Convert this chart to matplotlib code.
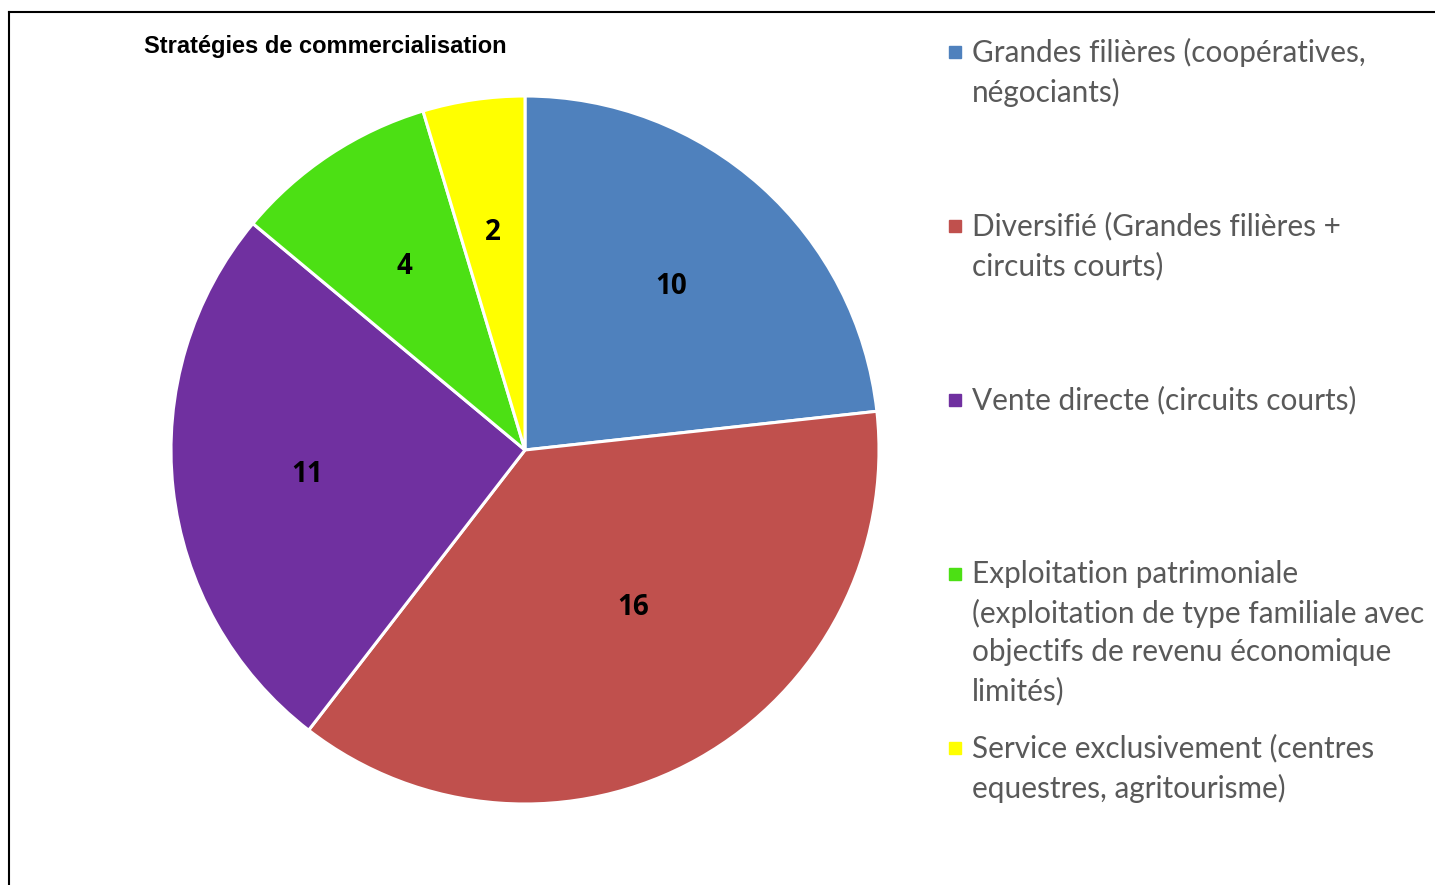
import matplotlib.pyplot as plt
import numpy as np

# data
categories = [
    "Grandes filières (coopératives,\nnégociants)",
    "Diversifié (Grandes filières +\ncircuits courts)",
    "Vente directe (circuits courts)",
    "Exploitation patrimoniale\n(exploitation de type familiale avec\nobjectifs de revenu économique\nlimités)",
    "Service exclusivement (centres\nequestres, agritourisme)",
]
counts = [10, 16, 11, 4, 2]
colors = ["#4F81BD", "#C0504D", "#7030A0", "#4CE014", "#FFFF00"]
title = "Stratégies de commercialisation"

W, H = 1435, 885
fig = plt.figure(figsize=(W / 100, H / 100), dpi=100)

# frame (only top & left visible in the original crop)
fig.add_artist(plt.Line2D([9 / W, 9 / W], [0, 1 - 12 / H], color="black", lw=1.5))
fig.add_artist(plt.Line2D([9 / W, 1], [1 - 12 / H, 1 - 12 / H], color="black", lw=1.5))

# pie axes: centre (525, 450) px, radius 354 px
cx, cy, r = 525, 450, 354
ax = fig.add_axes([(cx - r) / W, (H - cy - r) / H, 2 * r / W, 2 * r / H])
wedges, texts = ax.pie(counts, colors=colors, startangle=90, counterclock=False,
                       labels=[str(c) for c in counts], labeldistance=0.62,
                       wedgeprops=dict(edgecolor="white", linewidth=2.2),
                       textprops=dict(fontsize=20, fontweight="bold", family="Open Sans",
                                      color="black", ha="center", va="center"))
ax.set_xlim(-1, 1)
ax.set_ylim(-1, 1)
ax.set_aspect("equal")
ax.axis("off")

# the biggest slice label sits a bit closer to the centre
w = wedges[1]
ang = np.deg2rad((w.theta1 + w.theta2) / 2 + 5)
texts[1].set_position((0.54 * np.cos(ang), 0.54 * np.sin(ang)))

fig.text(144 / W, 1 - 47 / H, title, family="Liberation Sans", fontweight="bold",
         fontsize=17, ha="left", va="center")

# legend, entries every 174 px
for i, (lab, col) in enumerate(zip(categories, colors)):
    y = 52 + i * 174
    fig.patches.append(plt.Rectangle((949 / W, 1 - (y + 6) / H), 12 / W, 12 / H,
                                     transform=fig.transFigure, color=col))
    fig.text(972 / W, 1 - (y - 14) / H, lab, family="Lato", fontsize=21.4,
             color="#595959", ha="left", va="top", linespacing=1.45)

fig.savefig("out.png", dpi=100)
